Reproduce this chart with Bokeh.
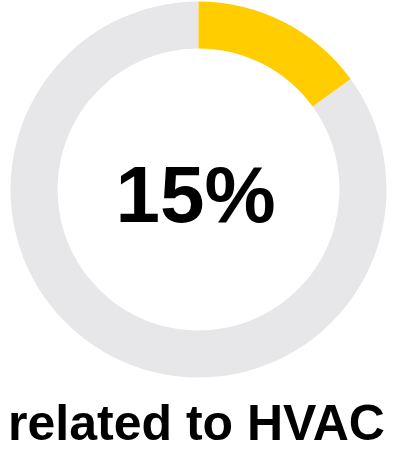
import math
from bokeh.plotting import figure
from bokeh.models import Range1d
from bokeh.core.properties import value
from bokeh.embed import file_html
from bokeh.resources import INLINE

# data
share_pct = [15]
label_text = ["15%"]
caption_text = ["related to HVAC"]
colors = ["#FFCD00", "#E7E7E9"]

W, H = 392, 449
p = figure(width=W, height=H, output_backend="svg", toolbar_location=None,
           x_range=Range1d(0, W), y_range=Range1d(0, H), min_border=0)
p.axis.visible = False
p.grid.visible = False
p.outline_line_color = None
p.background_fill_color = None

cx, cy = 198, 260
r_out, r_in = 188, 141
frac = share_pct[0] / 100.0
top = math.pi / 2
end = top - 2 * math.pi * frac

# remaining part (gray)
p.annular_wedge(x=[cx], y=[cy], inner_radius=r_in, outer_radius=r_out,
                start_angle=[top], end_angle=[end], direction="anticlock",
                fill_color=colors[1], line_color=None)
# share part (yellow)
p.annular_wedge(x=[cx], y=[cy], inner_radius=r_in, outer_radius=r_out,
                start_angle=[end], end_angle=[top], direction="anticlock",
                fill_color=colors[0], line_color=None)

p.text(x=[cx - 3], y=[cy - 5], text=label_text, text_align="center", text_baseline="middle",
       text_font=value("Liberation Sans"), text_font_style="bold", text_font_size="80px",
       text_color="#000000")
p.text(x=[W / 2], y=[27], text=caption_text, text_align="center", text_baseline="middle",
       text_font=value("Liberation Sans"), text_font_style="bold", text_font_size="50px",
       text_color="#000000")

open("out.html", "w").write(file_html(p, INLINE))
